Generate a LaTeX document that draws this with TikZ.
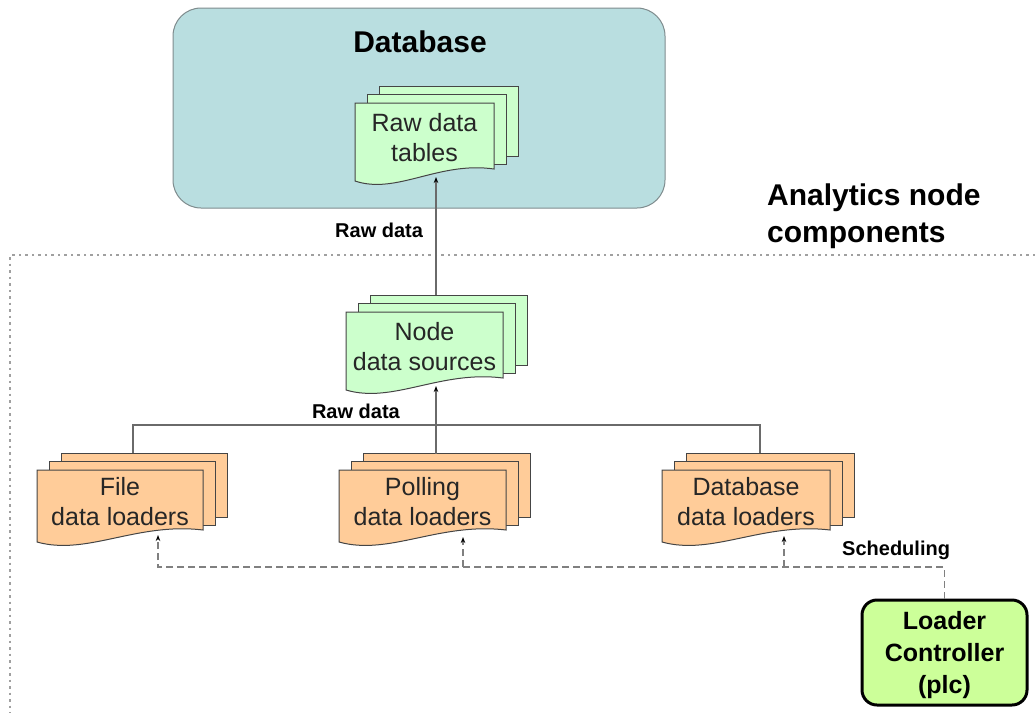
\documentclass[tikz,border=0pt]{standalone}
\usepackage{fontspec}
\setmainfont{Liberation Sans}
\usetikzlibrary{arrows.meta}

\definecolor{dbfill}{HTML}{B9DEE0}
\definecolor{dbline}{HTML}{7F8C8E}
\definecolor{srcfill}{HTML}{CCFFCC}
\definecolor{ldrfill}{HTML}{FFCC99}
\definecolor{ctlfill}{HTML}{CCFF99}
\definecolor{wirecol}{HTML}{6A6A6A}
\definecolor{edgecol}{HTML}{454545}
\definecolor{framecol}{HTML}{A0A0A0}

\tikzset{
  docedge/.style={draw=edgecol, line width=1pt},
  doctext/.style={font=\fontsize{25}{30}\selectfont, align=center, inner sep=0pt, text=black!85},
  wire/.style={draw=wirecol, line width=1.2pt},
  schedline/.style={draw=wirecol!85, line width=1.5pt, dash pattern=on 7pt off 4pt},
  tip/.style={-{Stealth[length=6pt,width=4.5pt,black]}},
  lbl/.style={font=\bfseries\fontsize{20}{24}\selectfont, inner sep=0pt},
  dbbox/.style={draw=dbline, fill=dbfill, line width=1pt, rounded corners=28pt,
                minimum width=492pt, minimum height=200pt},
  ctlbox/.style={draw=black, fill=ctlfill, line width=3pt, rounded corners=15pt,
                 minimum width=165pt, minimum height=105pt, align=center,
                 font=\bfseries\fontsize{25}{32}\selectfont},
  framebox/.style={draw=framecol, line width=2.4pt, dash pattern=on 2.5pt off 4pt}
}

% stacked document symbol: name, left, top, width, height, fill, text
\newcommand\stackdoc[7]{%
  \draw[docedge, fill=#6] ({#2+24},{#3-17}) rectangle ({#2+#4+24},{#3+#5-25});
  \draw[docedge, fill=#6] ({#2+12},{#3-8.5}) rectangle ({#2+#4+12},{#3+#5-16.5});
  \draw[docedge, fill=#6] (#2,#3) -- ({#2+#4},#3) -- ({#2+#4},{#3+#5-12})
    .. controls ({#2+0.6*#4},{#3+#5-20}) and ({#2+0.3*#4},{#3+#5+14}) .. (#2,{#3+#5}) -- cycle;
  \node[doctext] (#1) at ({#2+#4/2},{#3+#5/2-4}) {#7};
}

\begin{document}
\begin{tikzpicture}[x=1pt, y=-1pt]
\useasboundingbox (0,0) rectangle (1035,713);
\fill[white] (0,0) rectangle (1035,713);

% analytics node boundary
\draw[framebox] (1035,255) -- (10,255) -- (10,713);
\node[font=\bfseries\fontsize{30}{37}\selectfont, align=left, anchor=base west, inner sep=0pt]
  (anl) at (767,242) {Analytics node\\components};

% database
\node[dbbox] (db) at (419,108) {};
\node[font=\bfseries\fontsize{30}{36}\selectfont, anchor=base, inner sep=0pt] (dbt) at (420,52) {Database};

% document stacks
\stackdoc{rdt}{355}{103}{139}{78}{srcfill}{Raw data\\tables}
\stackdoc{nds}{346}{312}{157}{78}{srcfill}{Node\\data sources}
\stackdoc{fdl}{37}{470}{166}{72}{ldrfill}{File\\data loaders}
\stackdoc{pdl}{339}{470}{167}{72}{ldrfill}{Polling\\data loaders}
\stackdoc{ddl}{662}{470}{168}{72}{ldrfill}{Database\\data loaders}

% loader controller
\node[ctlbox] (lc) at (944.5,652.5) {};
\node[font=\bfseries\fontsize{25}{32}\selectfont, align=center, inner sep=0pt] (lct)
  at (944.5,655) {Loader\\Controller\\(plc)};

% connection points on the stacks
\coordinate (rdt-in) at (436,177);
\coordinate (nds-out) at (436,294.5);
\coordinate (nds-in) at (436,386);
\coordinate (bus) at (436,425);
\coordinate (fdl-out) at (133,453);
\coordinate (pdl-out) at (436,453.5);
\coordinate (ddl-out) at (760,453);
\coordinate (fdl-in) at (158,535);
\coordinate (pdl-in) at (463,537);
\coordinate (ddl-in) at (784,536);
\coordinate (sbus) at (944.5,567);

% raw data flow
\draw[wire, tip] (nds-out) -- (rdt-in);
\draw[wire] (fdl-out) -- (fdl-out |- bus) -- (ddl-out |- bus) -- (ddl-out);
\draw[wire, tip] (pdl-out) -- (nds-in);

% scheduling
\draw[schedline, tip] (lc.north) -- (sbus) -- (fdl-in |- sbus) -- (fdl-in);
\draw[schedline, tip] (pdl-in |- sbus) -- (pdl-in);
\draw[schedline, tip] (ddl-in |- sbus) -- (ddl-in);

% labels
\node[lbl, anchor=base west] (l1) at (335,237) {Raw data};
\node[lbl, anchor=base east] (l2) at (400,418) {Raw data};
\node[lbl, anchor=base west] (l3) at (842,555) {Scheduling};
\end{tikzpicture}
\end{document}
